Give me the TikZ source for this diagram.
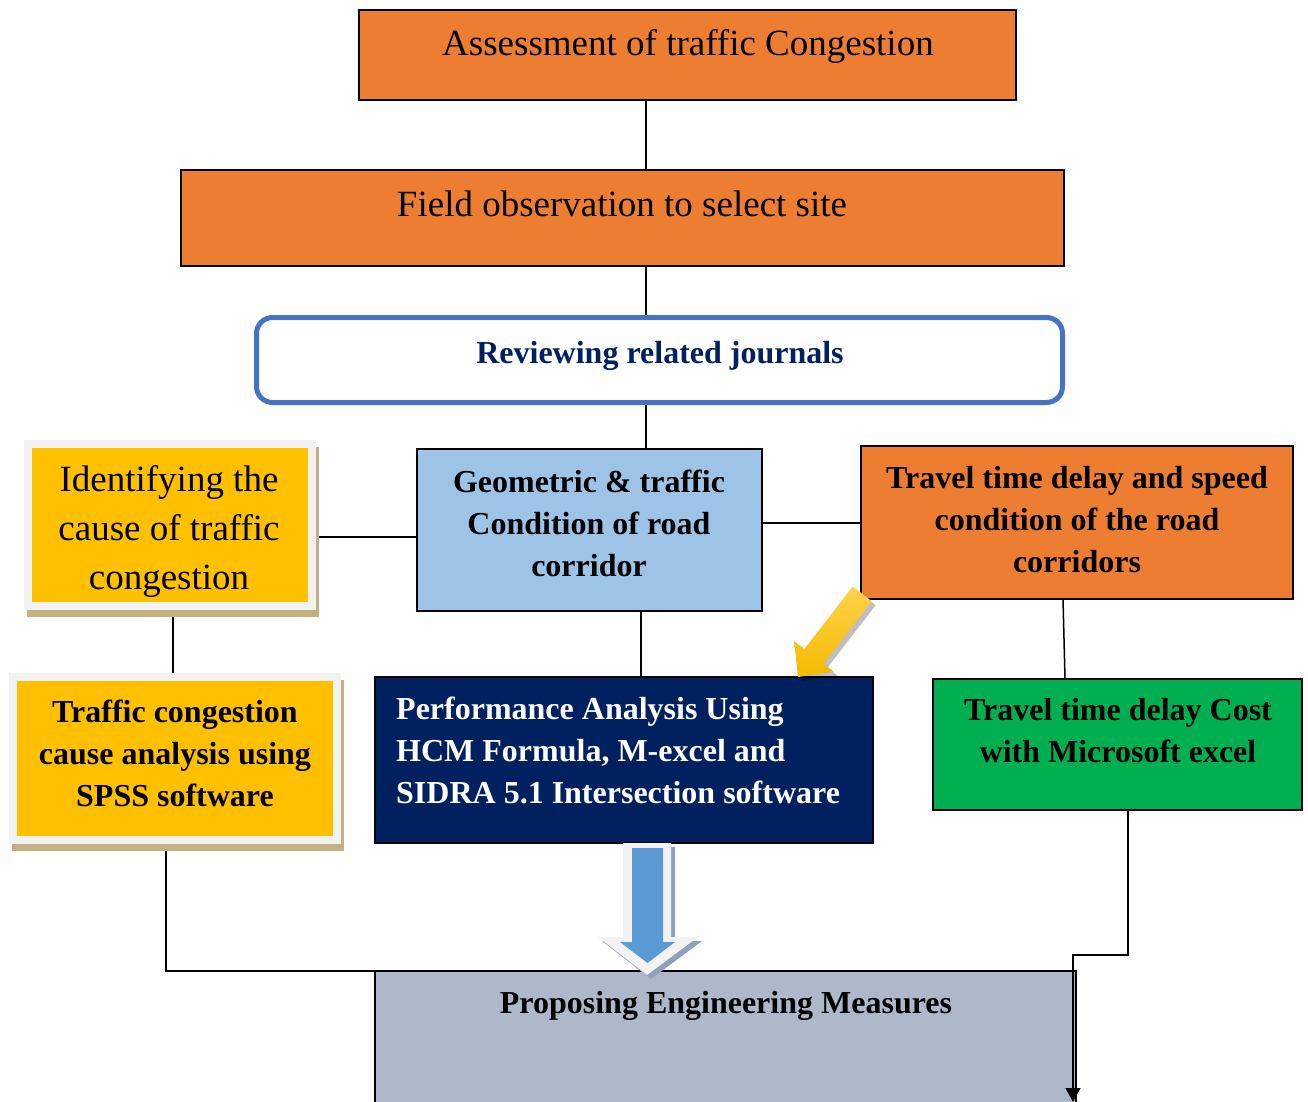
\documentclass[tikz,border=0pt]{standalone}
\usepackage{fontspec}
\setmainfont{Liberation Serif}
\usetikzlibrary{fit,arrows.meta,backgrounds,calc}
\definecolor{orng}{HTML}{ED7D31}
\definecolor{yel}{HTML}{FFC000}
\definecolor{lblue}{HTML}{9DC3E6}
\definecolor{navy}{HTML}{002060}
\definecolor{grn}{HTML}{00B050}
\definecolor{gblue}{HTML}{ADB9CA}
\definecolor{bord}{HTML}{4472C4}
\definecolor{frm}{HTML}{F2F2F2}
\definecolor{tanshadow}{HTML}{C3B181}
\definecolor{arrblue}{HTML}{5B9BD5}
\definecolor{arrshadow}{HTML}{8EA1BD}
\definecolor{yarrlight}{HTML}{FFD34D}
\definecolor{yarrdark}{HTML}{F5BA00}
\begin{document}
\begin{tikzpicture}[x=1pt,y=-1pt,
 box/.style={draw=black, line width=2pt, inner sep=0pt, outer sep=0pt},
 framebox/.style={draw=frm, line width=8pt, fill=yel, inner sep=0pt, outer sep=0pt},
 reg/.style={font=\fontsize{37}{49}\selectfont, align=center, inner sep=0pt},
 bld/.style={font=\fontsize{32}{42}\selectfont\bfseries, align=center, inner sep=0pt},
 link/.style={draw=black, line width=1.5pt}]
\useasboundingbox (0,0) rectangle (1308,1102);
\clip (0,0) rectangle (1308,1102);

% top boxes
\node[box, fill=orng, fit={(359,10) (1016,100)}] (assess) {};
\node[reg] (assesst) at (688,46) {Assessment of traffic Congestion};
\node[box, fill=orng, fit={(181,170) (1064,266)}] (field) {};
\node[reg] (fieldt) at (622,204) {Field observation to select site};
\node[draw=bord, line width=5pt, rounded corners=16pt, fill=white, inner sep=0pt, outer sep=0pt, fit={(256.5,317.5) (1062.5,402.5)}] (review) {};
\node[bld, text=navy] (reviewt) at (660,356) {Reviewing related journals};

% identifying
\fill[tanshadow] (27,447) rectangle (319,617);
\node[framebox, fit={(28,444) (312,606)}] (ident) {};
\node[reg] (identt) at (169,531) {Identifying the\\cause of traffic\\congestion};

% geometric
\node[box, fill=lblue, fit={(417,449) (762,611)}] (geo) {};
\node[bld] (geot) at (589,523) {Geometric \& traffic\\Condition of road\\corridor};

% speed
\node[box, fill=orng, fit={(861,446) (1293,599)}] (speed) {};
\node[bld] (speedt) at (1077,520) {Travel time delay and speed\\condition of the road\\corridors};

% cause analysis
\fill[tanshadow] (12,680) rectangle (344,851);
\node[framebox, fit={(13,677) (337,840)}] (cause) {};
\node[bld] (causet) at (175,753) {Traffic congestion\\cause analysis using\\SPSS software};

% performance
\node[box, fill=navy, fit={(375,677) (873,843)}] (perf) {};
\node[bld, text=white, align=left, anchor=west] (perft) at (396,750) {Performance Analysis Using\\HCM Formula, M-excel and\\SIDRA 5.1 Intersection software};

% cost
\node[box, fill=grn, fit={(933,679) (1302,810)}] (cost) {};
\node[bld] (costt) at (1118,731) {Travel time delay Cost\\with Microsoft excel};

% proposing
\node[box, fill=gblue, fit={(375,971) (1076,1130)}] (prop) {};
\node[bld] (propt) at (726,1006) {Proposing Engineering Measures};

% connectors
\begin{scope}[on background layer]
\draw[link] ([xshift=-41.5pt]assess.south) -- ([xshift=-41.5pt]assess.south |- field.north);
\draw[link] ([xshift=23.5pt]field.south) -- ([xshift=23.5pt]field.south |- review.north);
\draw[link] ([xshift=-13.5pt]review.south) -- ([xshift=-13.5pt]review.south |- geo.north);
\draw[link] ([yshift=-12pt]ident.east) -- ([yshift=-12pt]ident.east -| geo.west);
\draw[link] ([yshift=7pt]geo.east) -- ([yshift=7pt]geo.east -| speed.west);
\draw[link] ([xshift=3pt]ident.south) -- ([xshift=3pt]ident.south |- cause.north);
\draw[link] ([xshift=51.5pt]geo.south) -- ([xshift=51.5pt]geo.south |- perf.north);
\draw[link] ([xshift=-14pt]speed.south) -- ([xshift=-52.5pt]cost.north);
\draw[link] ([xshift=-9pt]cause.south) |- (prop.north west);
\end{scope}

\coordinate (gelbow) at (1073,955);
\coordinate (gend) at (1073,1102);
\draw[link, -{Triangle[width=15pt,length=14pt]}] ([xshift=10.5pt]cost.south) |- (gelbow) -- (gend);

% yellow block arrow
\fill[black, opacity=0.25] (856.7,590.5) -- (875.7,605.1) -- (827.4,667.7) -- (837.7,675.7) -- (802,681) -- (798.1,645.1) -- (808.4,653.1) -- cycle;
\shade[shading=axis, shading angle=35, top color=yarrlight, bottom color=yarrdark] (852.7,586.5) -- (871.7,601.1) -- (823.4,663.7) -- (833.7,671.7) -- (798,677) -- (794.1,641.1) -- (804.4,649.1) -- cycle;

% blue block arrow
\fill[arrshadow] (627,847) -- (675,847) -- (675,941) -- (702,941) -- (651,979) -- (602,941) -- (627,941) -- cycle;
\fill[frm] (623,843) -- (671,843) -- (671,937) -- (698,937) -- (647,975) -- (598,937) -- (623,937) -- cycle;
\fill[arrblue] (632,848) -- (663,848) -- (663,942) -- (675,942) -- (647.5,963) -- (620,942) -- (632,942) -- cycle;
\end{tikzpicture}
\end{document}
